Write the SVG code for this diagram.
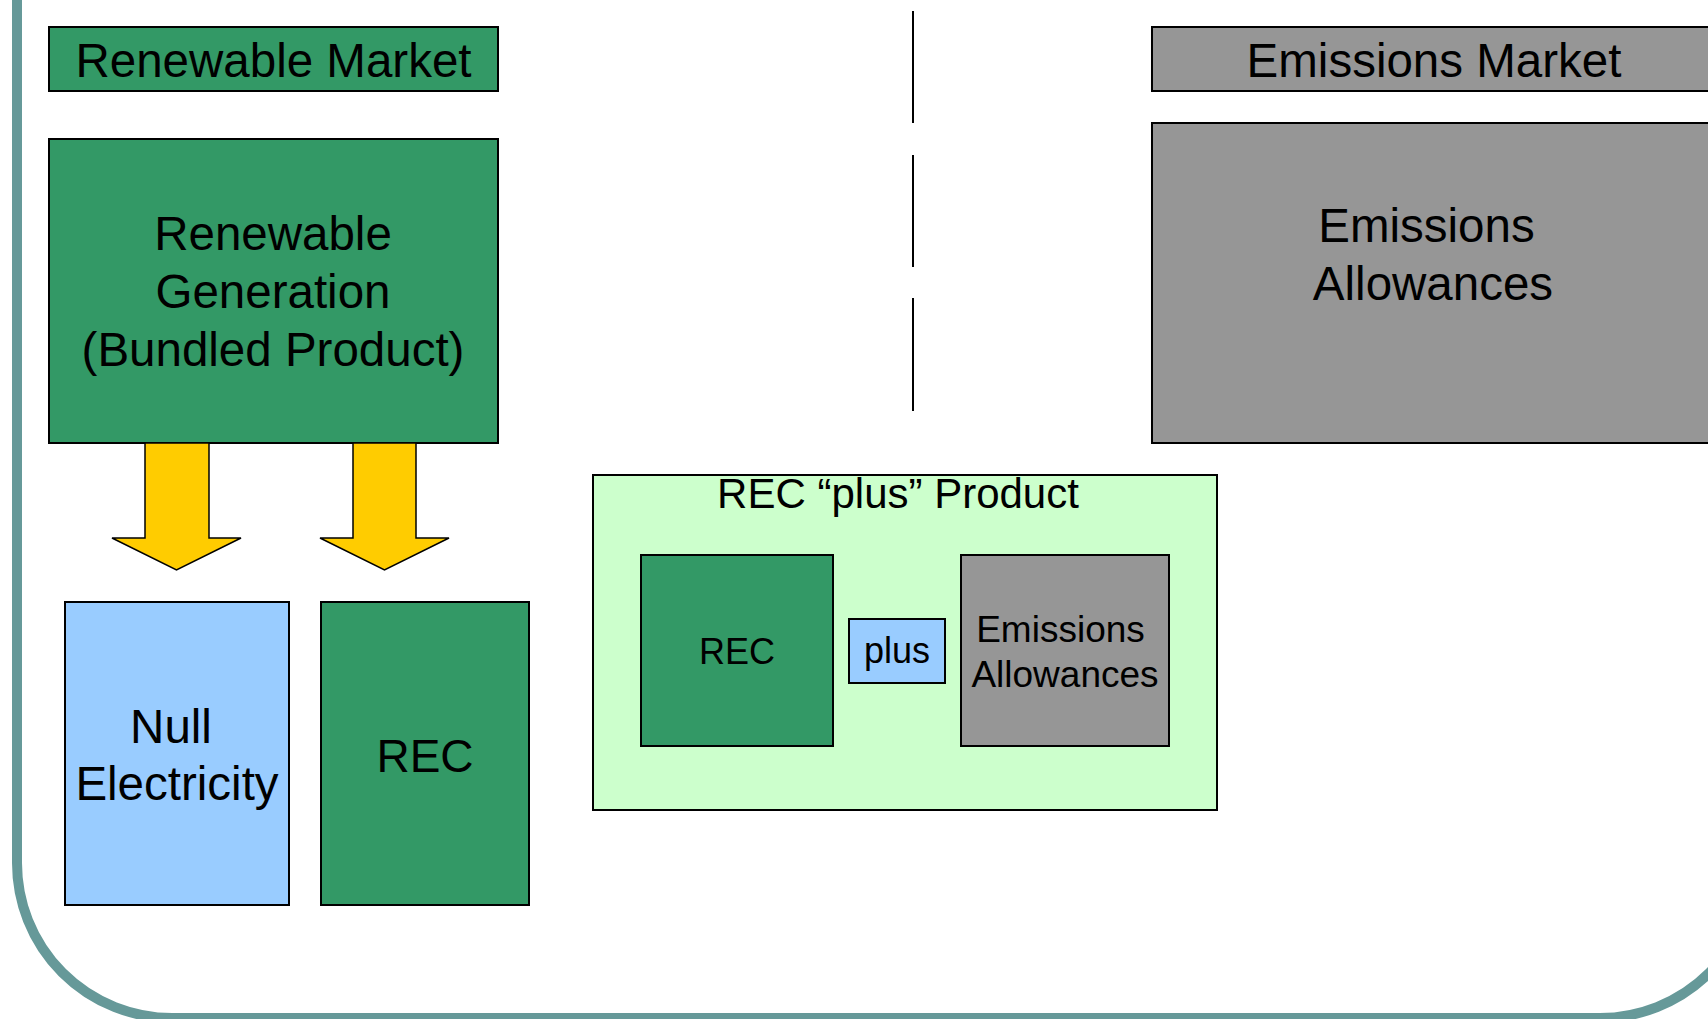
<svg xmlns="http://www.w3.org/2000/svg" width="1708" height="1019" viewBox="0 0 1708 1019">
<style>
.box{stroke:#000;stroke-width:2}
.g{fill:#339966}.b{fill:#99CCFF}.gr{fill:#969696}.lg{fill:#CCFFCC}
text{font-family:"Liberation Sans",Arial,sans-serif;fill:#000;text-anchor:middle}
.big{font-size:47.5px}
.mid{font-size:37px}
.arrow{fill:#FFCC00;stroke:#000;stroke-width:1.5;stroke-linejoin:miter}
.sep{stroke:#000;stroke-width:2}
</style>
<rect width="1708" height="1019" fill="#fff"/>
<rect id="frame" x="17" y="-300" width="1738" height="1318" rx="155" ry="155" fill="none" stroke="#669999" stroke-width="10"/>
<g id="separator">
<line class="sep" x1="913" y1="11" x2="913" y2="123"/>
<line class="sep" x1="913" y1="155" x2="913" y2="267"/>
<line class="sep" x1="913" y1="298" x2="913" y2="411"/>
</g>
<g id="renewable-market">
<rect class="box g" x="49" y="27" width="449" height="64"/>
<text class="big" x="273.5" y="77">Renewable Market</text>
</g>
<g id="renewable-generation">
<rect class="box g" x="49" y="139" width="449" height="304"/>
<text class="big" x="273" y="250">Renewable</text>
<text class="big" x="273" y="308">Generation</text>
<text class="big" x="273" y="366">(Bundled Product)</text>
</g>
<g id="emissions-market">
<rect class="box gr" x="1152" y="27" width="564" height="64"/>
<text class="big" x="1434" y="77">Emissions Market</text>
</g>
<g id="emissions-allowances">
<rect class="box gr" x="1152" y="123" width="564" height="320"/>
<text class="big" x="1426.5" y="242">Emissions</text>
<text class="big" x="1433" y="300">Allowances</text>
</g>
<g id="null-electricity">
<rect class="box b" x="65" y="602" width="224" height="303"/>
<text class="big" x="171" y="743">Null</text>
<text class="big" x="177" y="800">Electricity</text>
</g>
<g id="rec">
<rect class="box g" x="321" y="602" width="208" height="303"/>
<text class="big" x="425" y="772" style="font-size:46px">REC</text>
</g>
<g id="rec-plus-product">
<rect class="box lg" x="593" y="475" width="624" height="335"/>
<text x="898" y="508" style="font-size:42px">REC “plus” Product</text>
</g>
<g id="rec-plus-rec">
<rect class="box g" x="641" y="555" width="192" height="191"/>
<text x="737" y="664" style="font-size:36px">REC</text>
</g>
<g id="rec-plus-plus">
<rect class="box b" x="849" y="619" width="96" height="64"/>
<text x="897" y="663" style="font-size:36px">plus</text>
</g>
<g id="rec-plus-emissions">
<rect class="box gr" x="961" y="555" width="208" height="191"/>
<text class="mid" x="1060.5" y="642">Emissions</text>
<text class="mid" x="1065" y="687">Allowances</text>
</g>
<g id="connectors">
<polygon class="arrow" points="145,443 209,443 209,538 241,538 176.5,570 112,538 145,538"/>
<polygon class="arrow" points="353,443 416,443 416,538 449,538 384.5,570 320,538 353,538"/>
</g>
</svg>
